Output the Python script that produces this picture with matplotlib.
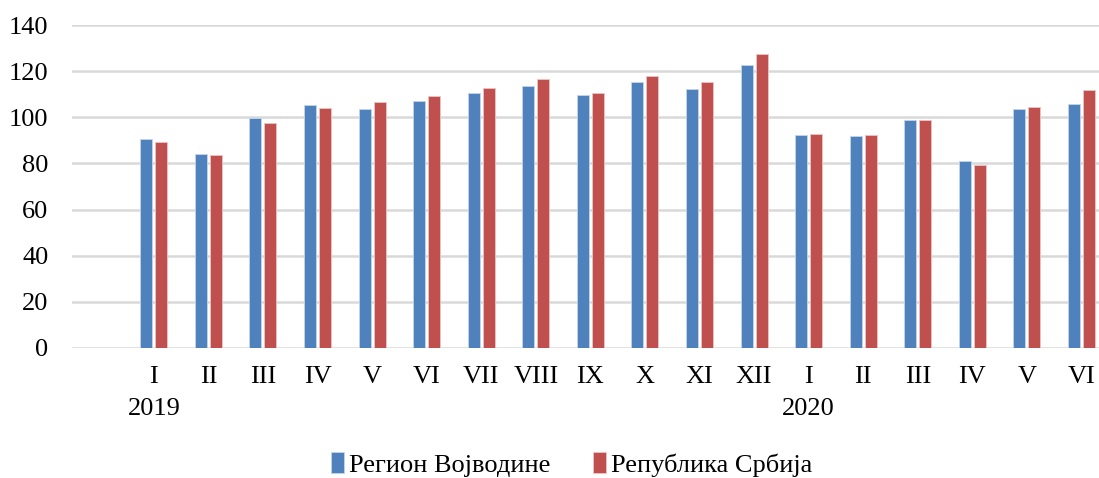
import numpy as np
import matplotlib.pyplot as plt

plt.rcParams['font.family'] = ['Liberation Serif', 'DejaVu Serif']

# month labels (roman numerals), 2019 I - 2020 VI
months = ['I', 'II', 'III', 'IV', 'V', 'VI', 'VII', 'VIII', 'IX', 'X', 'XI', 'XII',
          'I', 'II', 'III', 'IV', 'V', 'VI']
years = ['2019', '2020']
year_pos = [0, 12]

vojvodina = [90.6, 84.2, 99.6, 105.5, 103.6, 107.1, 110.7, 113.6, 109.6, 115.2, 112.2, 122.8,
             92.5, 91.7, 99.0, 80.9, 103.6, 105.7]
srbija = [89.4, 83.5, 97.5, 104.1, 106.8, 109.4, 112.9, 116.5, 110.7, 117.8, 115.2, 127.5,
          92.6, 92.5, 98.7, 79.3, 104.5, 111.7]

labels = ['Регион Војводине', 'Република Србија']
colors = ['#4F81BD', '#C0504D']

fig = plt.figure(figsize=(10.99, 4.78), dpi=100)
ax = fig.add_axes([72 / 1099, 130 / 478, 1 - 72 / 1099, 323 / 478])

x = np.arange(len(months))
w = 0.22
off = 0.1375
ax.bar(x - off, vojvodina, w, color=colors[0], edgecolor='#c6d5ea', linewidth=0.6,
       label=labels[0], zorder=3)
ax.bar(x + off, srbija, w, color=colors[1], edgecolor='#ebc6c5', linewidth=0.6,
       label=labels[1], zorder=3)

ax.set_ylim(0, 140)
ax.set_yticks(range(0, 141, 20))
ax.set_xlim(-1.5, 17.32)
ax.set_xticks(x)
ax.set_xticklabels(months)
ax.grid(axis='y', color='#d9d9d9', linewidth=1.8, zorder=0)
for s in ax.spines.values():
    s.set_visible(False)
ax.tick_params(axis='both', length=0, labelsize=19, colors='black')
ax.tick_params(axis='x', pad=13)
ax.tick_params(axis='y', pad=17)

# year labels below months
for yr, p in zip(years, year_pos):
    ax.text(p, -0.19, yr, transform=ax.get_xaxis_transform(), ha='center', va='center',
            fontsize=19)

fig.legend(loc='center', bbox_to_anchor=(0.52, 0.028), ncol=2, frameon=False,
           fontsize=19, handlelength=0.5, handleheight=0.8, handletextpad=0.2,
           columnspacing=1.6)

fig.savefig('out.png', dpi=100)
